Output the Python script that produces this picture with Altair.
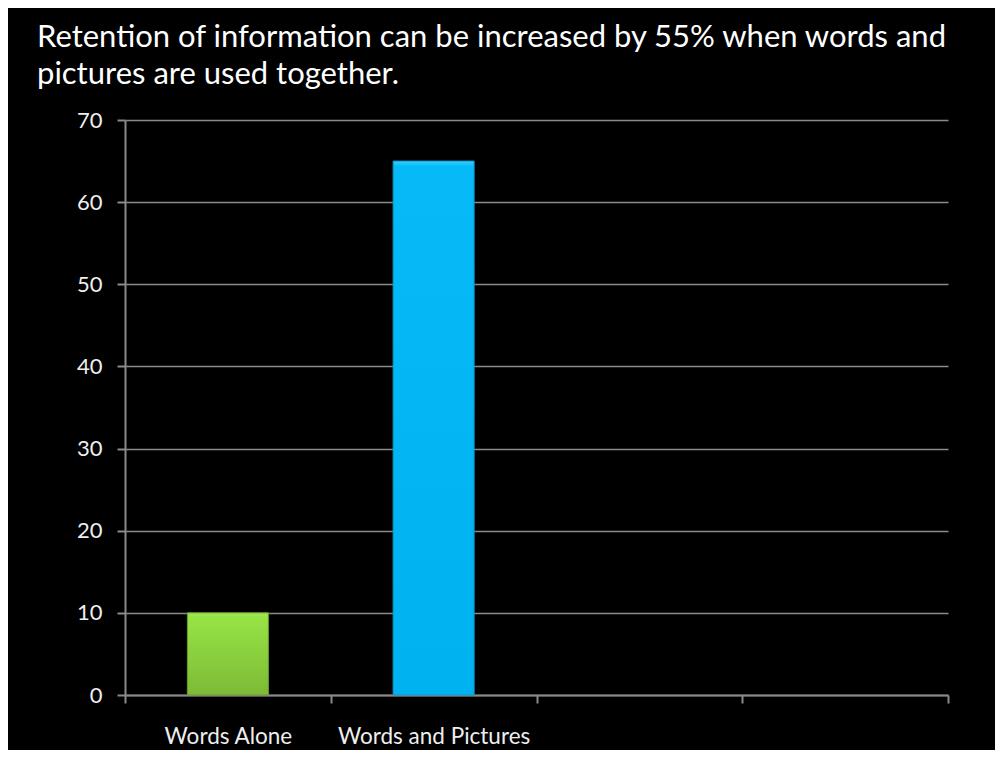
import altair as alt
import pandas as pd

categories = ["Words Alone", "Words and Pictures", "cat3", "cat4"]
values = [10, 65, None, None]
tick_labels = ["Words Alone", "Words and Pictures", "", ""]

df = pd.DataFrame({"category": categories, "value": values, "label": tick_labels})

title_lines = ["Retention of information can be increased by 55% when words and",
               "pictures are used together."]

x_enc = alt.X("category:N", sort=categories,
              scale=alt.Scale(domain=categories, paddingInner=0, paddingOuter=0),
              axis=alt.Axis(title=None, labelAngle=0, tickBand="extent", labelLimit=400,
                            labelExpr="datum.value == 'cat3' || datum.value == 'cat4' ? '' : datum.value",
                            labelFont="Lato", labelFontSize=22.5, labelColor="#eeeeee",
                            labelPadding=22, domainColor="#8a8a8a", domainWidth=2,
                            tickColor="#8a8a8a", tickWidth=2, tickSize=8, grid=False))
y_enc = alt.Y("value:Q", scale=alt.Scale(domain=[0, 70], nice=False),
              axis=alt.Axis(title=None, values=list(range(0, 80, 10)),
                            labelFont="Lato", labelFontSize=22, labelColor="#eeeeee",
                            labelPadding=15, domainColor="#8a8a8a", domainWidth=2,
                            tickColor="#8a8a8a", tickWidth=2, tickSize=8,
                            gridColor="#8a8a8a", gridWidth=1.5))

base = alt.Chart(df).encode(x=x_enc, y=y_enc)

green = base.transform_filter(alt.datum.category == "Words Alone").mark_bar(
    size=81,
    fill=alt.Gradient(gradient="linear", x1=0, x2=0, y1=0, y2=1,
                      stops=[alt.GradientStop(color="#a6ee52", offset=0),
                             alt.GradientStop(color="#97e445", offset=0.04),
                             alt.GradientStop(color="#7dba36", offset=1)]),
    stroke="#6a9c2c", strokeWidth=1)

blue = base.transform_filter(alt.datum.category == "Words and Pictures").mark_bar(
    size=81,
    fill=alt.Gradient(gradient="linear", x1=0, x2=0, y1=0, y2=1,
                      stops=[alt.GradientStop(color="#35cfff", offset=0),
                             alt.GradientStop(color="#06baf8", offset=0.01),
                             alt.GradientStop(color="#00b2ef", offset=1)]),
    stroke="#0a96c8", strokeWidth=1)

chart = alt.layer(green, blue).properties(
    width=823, height=575,
    autosize=alt.AutoSizeParams(type="none"),
    padding={"left": 117, "top": 112, "right": 47, "bottom": 55},
    background="#000000",
    title=alt.TitleParams(text=title_lines, anchor="start", frame="group", dx=-88, offset=18,
                          font="Lato", fontSize=31, fontWeight="normal",
                          color="#ffffff", lineHeight=37),
).configure_view(stroke=None)

chart.save("out.html", embed_options={"renderer": "svg", "actions": False})
